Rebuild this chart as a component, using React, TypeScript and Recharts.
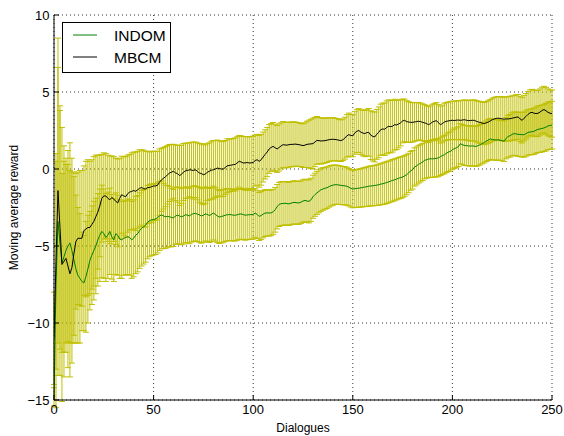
import React from 'react'
import {
  LineChart,
  Line,
  XAxis,
  YAxis,
  CartesianGrid,
  ErrorBar,
} from 'recharts'

const FONT = '"Liberation Sans", Arial, Helvetica, sans-serif'
const ERR_COLOR = '#bfbf00'

// dialogue index 0..250
const DIALOGUES = Array.from({ length: 251 }, (_, i) => i)

const X_TICKS = [0, 50, 100, 150, 200, 250]
const Y_TICKS = [-15, -10, -5, 0, 5, 10]

const SERIES = [
  { key: 'indom', name: 'INDOM', color: '#008000' },
  { key: 'mbcm', name: 'MBCM', color: '#000000' },
]

const MBCM = [
  -11, -6, -1.4, -3.8, -6.2, -6.0, -5.8, -6.3, -6.8, -6.4,
  -5.5, -4.7, -4.5, -4.5, -4.5, -4.0, -3.9, -3.8, -3.8, -3.6,
  -3.4, -3.1, -2.8, -2.4, -1.9, -1.75, -1.75, -1.9, -2.0, -1.85,
  -1.95, -2.1, -2.2, -1.9, -1.67, -1.75, -1.8, -1.6, -1.5, -1.45,
  -1.4, -1.45, -1.35, -1.25, -1.2, -1.28, -1.3, -1.2, -1.2, -1.15,
  -1.1, -1.1, -1.05, -0.85, -0.7, -0.6, -0.5, -0.38, -0.26, -0.2,
  -0.15, -0.25, -0.3, -0.43, -0.35, -0.2, -0.12, -0.1, -0.05, -0.07,
  -0.1, -0.05, -0.15, -0.26, -0.3, -0.37, -0.33, -0.2, -0.15, -0.08,
  -0.05, 0.0, 0.06, 0.03, 0.0, 0.0, 0.1, 0.21, 0.23, 0.25,
  0.28, 0.3, 0.4, 0.5, 0.45, 0.39, 0.4, 0.42, 0.39, 0.4,
  0.43, 0.55, 0.6, 0.5, 0.6, 0.78, 0.95, 1.1, 1.3, 1.4,
  1.47, 1.38, 1.3, 1.4, 1.5, 1.58, 1.56, 1.55, 1.58, 1.6,
  1.6, 1.62, 1.6, 1.58, 1.55, 1.52, 1.55, 1.6, 1.62, 1.63,
  1.65, 1.75, 1.86, 1.84, 1.82, 1.83, 1.84, 1.87, 1.9, 1.92,
  1.93, 1.92, 1.9, 1.87, 1.84, 1.9, 2.0, 2.15, 2.23, 2.18,
  2.16, 2.34, 2.45, 2.5, 2.4, 2.34, 2.3, 2.36, 2.38, 2.2,
  2.12, 2.08, 2.25, 2.38, 2.55, 2.6, 2.58, 2.7, 2.77, 2.75,
  2.78, 2.88, 2.86, 2.92, 3.0, 3.12, 3.16, 3.08, 3.05, 3.03,
  3.03, 3.05, 3.08, 3.1, 3.08, 3.03, 3.0, 2.95, 2.88, 2.95,
  3.05, 3.1, 3.14, 3.0, 2.88, 2.95, 3.05, 3.1, 3.12, 3.15,
  3.16, 3.15, 3.17, 3.18, 3.16, 3.18, 3.2, 3.17, 3.14, 3.15,
  3.16, 3.16, 3.1, 3.05, 3.03, 2.98, 2.95, 3.0, 3.05, 3.12,
  3.2, 3.25, 3.28, 3.3, 3.28, 3.25, 3.24, 3.25, 3.25, 3.27,
  3.3, 3.33, 3.36, 3.38, 3.25, 3.16, 3.3, 3.42, 3.55, 3.65,
  3.68, 3.62, 3.6, 3.62, 3.7, 3.8, 3.86, 3.78, 3.68, 3.62,
  3.6,
]

const MBCM_ERR = [
  3.0, 7.0, 9.9, 7.9, 8.9, 7.5, 6.1, 6.6, 6.7, 6.2,
  5.3, 4.4, 4.3, 4.4, 4.4, 4.2, 4.4, 4.4, 4.3, 4.2,
  4.2, 4.0, 3.7, 3.3, 2.85, 2.8, 2.75, 2.8, 2.85, 2.7,
  2.75, 2.8, 2.85, 2.6, 2.5, 2.55, 2.6, 2.5, 2.45, 2.5,
  2.5, 2.55, 2.5, 2.5, 2.45, 2.5, 2.45, 2.35, 2.3, 2.3,
  2.25, 2.25, 2.2, 2.15, 2.05, 2.0, 1.95, 1.9, 1.85, 1.8,
  1.75, 1.8, 1.85, 1.95, 1.9, 1.85, 1.8, 1.78, 1.75, 1.8,
  1.85, 1.8, 1.85, 1.9, 1.95, 1.95, 1.9, 1.85, 1.85, 1.88,
  1.9, 1.85, 1.82, 1.8, 1.8, 1.78, 1.75, 1.75, 1.72, 1.7,
  1.7, 1.72, 1.7, 1.68, 1.7, 1.72, 1.7, 1.68, 1.7, 1.7,
  1.7, 1.66, 1.65, 1.68, 1.65, 1.62, 1.6, 1.6, 1.58, 1.55,
  1.55, 1.53, 1.52, 1.53, 1.5, 1.5, 1.48, 1.47, 1.46, 1.45,
  1.45, 1.44, 1.42, 1.42, 1.4, 1.42, 1.45, 1.5, 1.55, 1.6,
  1.65, 1.6, 1.55, 1.5, 1.5, 1.48, 1.45, 1.45, 1.42, 1.4,
  1.4, 1.38, 1.38, 1.36, 1.35, 1.35, 1.36, 1.38, 1.4, 1.38,
  1.36, 1.38, 1.4, 1.42, 1.45, 1.48, 1.5, 1.52, 1.55, 1.58,
  1.6, 1.62, 1.62, 1.65, 1.66, 1.68, 1.7, 1.72, 1.72, 1.7,
  1.68, 1.65, 1.6, 1.55, 1.5, 1.42, 1.38, 1.35, 1.32, 1.3,
  1.28, 1.25, 1.24, 1.22, 1.2, 1.2, 1.18, 1.17, 1.16, 1.15,
  1.15, 1.16, 1.17, 1.18, 1.2, 1.2, 1.22, 1.22, 1.23, 1.24,
  1.24, 1.25, 1.26, 1.26, 1.27, 1.28, 1.28, 1.3, 1.3, 1.32,
  1.32, 1.33, 1.34, 1.35, 1.36, 1.36, 1.37, 1.38, 1.38, 1.39,
  1.4, 1.4, 1.4, 1.41, 1.42, 1.42, 1.43, 1.44, 1.44, 1.45,
  1.45, 1.45, 1.46, 1.46, 1.47, 1.47, 1.48, 1.48, 1.48, 1.49,
  1.49, 1.5, 1.5, 1.5, 1.5, 1.51, 1.51, 1.52, 1.52, 1.52,
  1.53,
]

const INDOM = [
  -14.8, -7.5, -3.4, -4.8, -6.1, -5.7, -5.3, -5.0, -4.8, -5.3,
  -5.9, -6.5, -6.9, -7.1, -7.3, -7.4, -7.0, -6.5, -5.95, -5.6,
  -5.3, -5.0, -4.6, -4.3, -4.05, -4.2, -4.45, -4.3, -4.05, -4.4,
  -4.6, -4.2, -4.3, -4.55, -4.6, -4.5, -4.45, -4.4, -4.45, -4.6,
  -4.5, -4.3, -4.2, -4.0, -3.85, -3.75, -3.65, -3.45, -3.35, -3.3,
  -3.28, -3.25, -3.15, -3.05, -2.98, -3.05, -3.1, -3.08, -3.1, -3.15,
  -3.18, -3.05, -3.0, -3.05, -3.1, -3.05, -2.97, -3.0, -3.05, -2.95,
  -2.9, -2.88, -2.93, -2.98, -3.05, -3.0, -2.92, -2.95, -3.02, -2.95,
  -2.86, -2.95, -3.05, -3.12, -3.08, -3.05, -3.0, -2.97, -2.96, -2.97,
  -3.0, -3.0, -2.97, -2.93, -2.92, -2.96, -3.0, -2.98, -2.97, -2.96,
  -2.95, -2.86, -2.95, -3.08, -3.02, -2.93, -2.86, -2.85, -2.86, -2.85,
  -2.78, -2.65, -2.45, -2.3, -2.25, -2.24, -2.22, -2.25, -2.26, -2.22,
  -2.18, -2.17, -2.2, -2.2, -2.15, -2.08, -2.04, -2.08, -2.1, -2.0,
  -1.8, -1.67, -1.55, -1.45, -1.35, -1.3, -1.25, -1.22, -1.15, -1.09,
  -1.05, -1.02, -1.02, -1.04, -1.06, -1.08, -1.09, -1.12, -1.18, -1.25,
  -1.3, -1.28, -1.26, -1.25, -1.22, -1.2, -1.17, -1.15, -1.12, -1.1,
  -1.09, -1.07, -1.05, -1.02, -0.98, -0.96, -0.92, -0.88, -0.84, -0.79,
  -0.74, -0.7, -0.65, -0.6, -0.56, -0.52, -0.45, -0.37, -0.26, -0.12,
  -0.05, 0.13, 0.2, 0.3, 0.37, 0.45, 0.56, 0.6, 0.65, 0.66,
  0.66, 0.67, 0.7, 0.72, 0.8, 0.87, 0.93, 1.02, 1.1, 1.14,
  1.26, 1.32, 1.38, 1.45, 1.64, 1.58, 1.53, 1.52, 1.5, 1.49,
  1.5, 1.48, 1.47, 1.52, 1.58, 1.65, 1.72, 1.8, 1.88, 1.95,
  1.92, 1.9, 1.88, 1.9, 1.86, 1.84, 1.8, 2.0, 2.12, 2.16,
  2.25, 2.3, 2.28, 2.25, 2.24, 2.23, 2.23, 2.3, 2.38, 2.4,
  2.42, 2.45, 2.52, 2.58, 2.6, 2.63, 2.67, 2.72, 2.8, 2.82,
  2.85,
]

const INDOM_ERR = [
  0.6, 8.0, 10.0, 8.6, 5.8, 6.2, 6.0, 6.2, 6.5, 6.0,
  5.4, 4.8, 4.4, 4.2, 3.2, 3.1, 3.6, 3.5, 3.2, 3.2,
  3.2, 3.1, 3.0, 3.0, 3.0, 2.9, 2.85, 2.8, 2.8, 2.75,
  2.7, 2.65, 2.6, 2.55, 2.5, 2.4, 2.42, 2.45, 2.45, 2.5,
  2.5, 2.5, 2.48, 2.45, 2.45, 2.42, 2.4, 2.38, 2.35, 2.33,
  2.3, 2.3, 2.3, 2.25, 2.2, 2.12, 2.05, 2.0, 1.95, 1.9,
  1.85, 1.85, 1.84, 1.83, 1.82, 1.82, 1.81, 1.8, 1.8, 1.8,
  1.8, 1.79, 1.78, 1.78, 1.77, 1.76, 1.76, 1.75, 1.75, 1.75,
  1.75, 1.74, 1.73, 1.72, 1.72, 1.71, 1.7, 1.7, 1.69, 1.68,
  1.68, 1.67, 1.66, 1.65, 1.64, 1.63, 1.62, 1.61, 1.6, 1.6,
  1.6, 1.58, 1.57, 1.56, 1.55, 1.54, 1.52, 1.5, 1.49, 1.48,
  1.46, 1.45, 1.44, 1.43, 1.42, 1.42, 1.41, 1.4, 1.4, 1.4,
  1.4, 1.4, 1.39, 1.39, 1.38, 1.38, 1.38, 1.38, 1.4, 1.4,
  1.4, 1.4, 1.4, 1.4, 1.4, 1.38, 1.36, 1.35, 1.33, 1.32,
  1.3, 1.28, 1.27, 1.26, 1.25, 1.24, 1.24, 1.23, 1.22, 1.22,
  1.22, 1.22, 1.23, 1.24, 1.25, 1.26, 1.27, 1.28, 1.29, 1.3,
  1.3, 1.31, 1.32, 1.33, 1.34, 1.35, 1.36, 1.36, 1.36, 1.36,
  1.36, 1.36, 1.35, 1.35, 1.35, 1.34, 1.32, 1.3, 1.28, 1.26,
  1.25, 1.24, 1.23, 1.22, 1.21, 1.2, 1.2, 1.2, 1.2, 1.2,
  1.2, 1.2, 1.21, 1.22, 1.22, 1.23, 1.24, 1.25, 1.26, 1.27,
  1.28, 1.28, 1.29, 1.29, 1.3, 1.3, 1.3, 1.3, 1.3, 1.3,
  1.3, 1.3, 1.3, 1.3, 1.31, 1.31, 1.32, 1.32, 1.33, 1.33,
  1.33, 1.32, 1.32, 1.31, 1.3, 1.31, 1.32, 1.34, 1.36, 1.38,
  1.4, 1.41, 1.42, 1.43, 1.44, 1.45, 1.46, 1.47, 1.48, 1.48,
  1.49, 1.5, 1.5, 1.51, 1.52, 1.52, 1.53, 1.54, 1.54, 1.55,
  1.55,
]

const data = DIALOGUES.map((d, i) => ({
  d,
  indom: INDOM[i],
  indomErr: INDOM_ERR[i],
  mbcm: MBCM[i],
  mbcmErr: MBCM_ERR[i],
}))

const fmt = (v: number) => (v < 0 ? `\u2212${Math.abs(v)}` : `${v}`)
const tickStyle = { fill: '#000', fontSize: 13, fontFamily: FONT }

const LegendBox = () => (
  <svg
    width={110}
    height={52}
    style={{ position: 'absolute', left: 62, top: 22, overflow: 'visible' }}
  >
    <rect x={0.5} y={0.5} width={108} height={50} fill="#fff" stroke="#000" />
    {SERIES.map((s, i) => (
      <g key={s.key}>
        <line x1={11} x2={35} y1={13 + i * 22} y2={13 + i * 22} stroke={s.color} strokeWidth={1} />
        <text x={52} y={18.5 + i * 22} fontSize={15.5} fontFamily={FONT} fill="#000">
          {s.name}
        </text>
      </g>
    ))}
  </svg>
)

export default function App() {
  return (
    <div style={{ position: 'absolute', left: 0, top: 0, width: 564, height: 436, background: '#fff' }}>
      <LineChart
        width={564}
        height={436}
        data={data}
        margin={{ top: 15, right: 12, bottom: 0, left: 0 }}
      >
        <CartesianGrid stroke="#000" strokeDasharray="1 3" strokeWidth={0.8} />
        <XAxis
          dataKey="d"
          type="number"
          domain={[0, 250]}
          ticks={X_TICKS}
          allowDataOverflow
          height={36}
          stroke="#000"
          tickSize={-5}
          tickMargin={10}
          tick={tickStyle}
          label={{ value: 'Dialogues', position: 'insideBottom', offset: 4, fill: '#000', fontSize: 12, fontFamily: FONT }}
        />
        <XAxis
          xAxisId="top"
          orientation="top"
          type="number"
          domain={[0, 250]}
          ticks={X_TICKS}
          height={0}
          stroke="#000"
          tickSize={-5}
          tickFormatter={() => ''}
        />
        <YAxis
          type="number"
          domain={[-15, 10]}
          ticks={Y_TICKS}
          allowDataOverflow
          width={54}
          stroke="#000"
          tickSize={-5}
          tickMargin={9.5}
          tick={tickStyle}
          tickFormatter={fmt}
          label={{
            value: 'Moving average reward',
            angle: -90,
            position: 'insideLeft',
            offset: 14,
            fill: '#000',
            fontSize: 12,
            fontFamily: FONT,
            style: { textAnchor: 'middle' },
          }}
        />
        <YAxis
          yAxisId="right"
          orientation="right"
          type="number"
          domain={[-15, 10]}
          ticks={Y_TICKS}
          width={0}
          stroke="#000"
          tickSize={-5}
          tickFormatter={() => ''}
        />

        {/* error bars first, lines drawn over them */}
        {SERIES.map((s) => (
          <Line
            key={`${s.key}-err`}
            dataKey={s.key}
            stroke="none"
            dot={false}
            activeDot={false}
            legendType="none"
            isAnimationActive={false}
          >
            <ErrorBar
              dataKey={`${s.key}Err`}
              width={3}
              stroke={ERR_COLOR}
              strokeWidth={1}
              isAnimationActive={false}
            />
          </Line>
        ))}
        {SERIES.map((s) => (
          <Line
            key={s.key}
            dataKey={s.key}
            name={s.name}
            stroke={s.color}
            strokeWidth={1}
            dot={false}
            activeDot={false}
            isAnimationActive={false}
          />
        ))}
      </LineChart>
      <LegendBox />
    </div>
  )
}
